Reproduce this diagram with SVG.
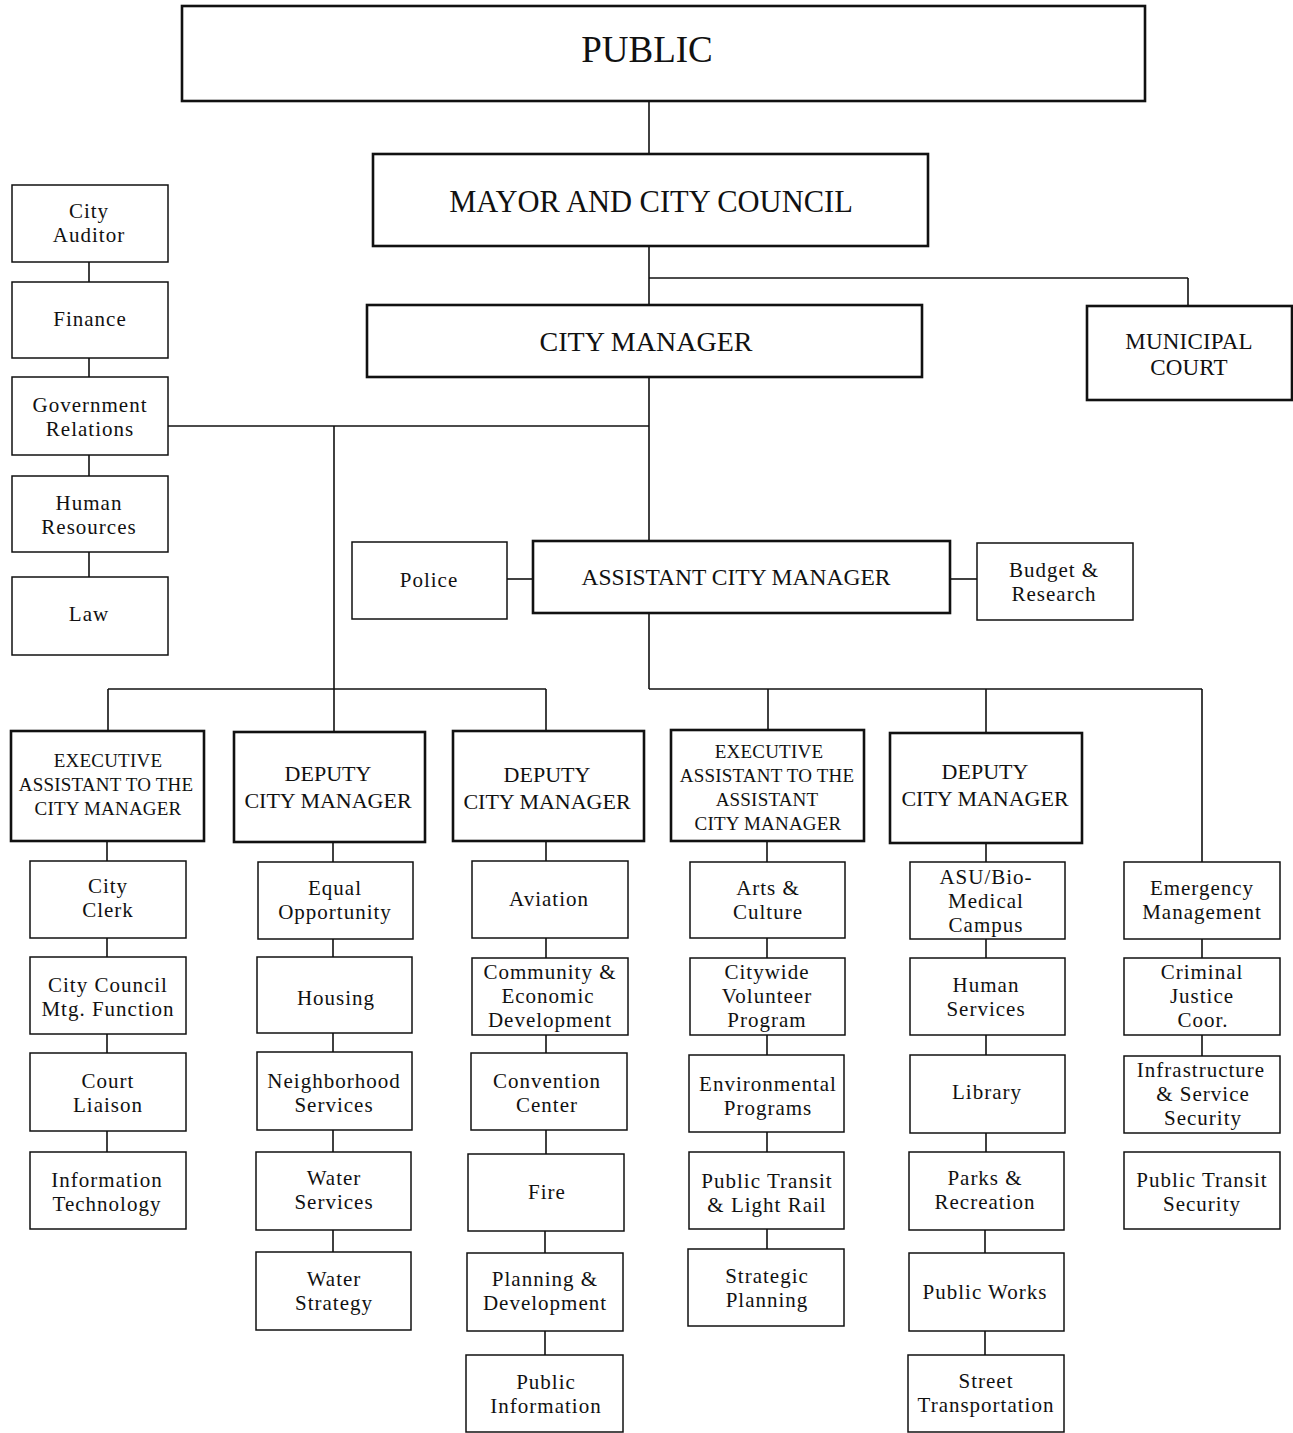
<svg xmlns="http://www.w3.org/2000/svg" width="1293" height="1433" viewBox="0 0 1293 1433">
<style>
.b,.k{fill:#fff;stroke:#111}
.b{stroke-width:1.5}
.k{stroke-width:2.6}
text{font-family:"Liberation Serif","DejaVu Serif",serif;fill:#111;text-anchor:middle}
.s{font-size:21px;letter-spacing:1px}
.m{font-size:19px;letter-spacing:0.2px}
.d{font-size:22px;letter-spacing:0px}
.c{font-size:23px;letter-spacing:0.2px}
#connectors line{stroke:#111;stroke-width:1.6}
</style>
<rect width="1293" height="1433" fill="#fff"/>
<g id="connectors">
<line x1="649" y1="101" x2="649" y2="154"/>
<line x1="649" y1="246" x2="649" y2="305"/>
<line x1="649" y1="278" x2="1188" y2="278"/>
<line x1="1188" y1="278" x2="1188" y2="306"/>
<line x1="649" y1="377" x2="649" y2="541"/>
<line x1="168" y1="426" x2="649" y2="426"/>
<line x1="334" y1="426" x2="334" y2="732"/>
<line x1="108" y1="689" x2="546" y2="689"/>
<line x1="108" y1="689" x2="108" y2="731"/>
<line x1="546" y1="689" x2="546" y2="731"/>
<line x1="89" y1="262" x2="89" y2="282"/>
<line x1="89" y1="358" x2="89" y2="377"/>
<line x1="89" y1="455" x2="89" y2="476"/>
<line x1="89" y1="552" x2="89" y2="577"/>
<line x1="507" y1="579" x2="533" y2="579"/>
<line x1="950" y1="579" x2="977" y2="579"/>
<line x1="649" y1="613" x2="649" y2="689"/>
<line x1="649" y1="689" x2="1202" y2="689"/>
<line x1="768" y1="689" x2="768" y2="730"/>
<line x1="986" y1="689" x2="986" y2="733"/>
<line x1="1202" y1="689" x2="1202" y2="862"/>
<line x1="107" y1="841" x2="107" y2="861"/>
<line x1="107" y1="938" x2="107" y2="957"/>
<line x1="107" y1="1034" x2="107" y2="1053"/>
<line x1="107" y1="1131" x2="107" y2="1152"/>
<line x1="333" y1="842" x2="333" y2="862"/>
<line x1="333" y1="939" x2="333" y2="957"/>
<line x1="333" y1="1033" x2="333" y2="1052"/>
<line x1="333" y1="1130" x2="333" y2="1152"/>
<line x1="333" y1="1230" x2="333" y2="1252"/>
<line x1="546" y1="841" x2="546" y2="861"/>
<line x1="546" y1="938" x2="546" y2="958"/>
<line x1="546" y1="1035" x2="546" y2="1053"/>
<line x1="546" y1="1130" x2="546" y2="1154"/>
<line x1="545" y1="1231" x2="545" y2="1253"/>
<line x1="545" y1="1331" x2="545" y2="1355"/>
<line x1="767" y1="841" x2="767" y2="862"/>
<line x1="767" y1="938" x2="767" y2="958"/>
<line x1="767" y1="1035" x2="767" y2="1055"/>
<line x1="767" y1="1132" x2="767" y2="1152"/>
<line x1="767" y1="1229" x2="767" y2="1249"/>
<line x1="986" y1="843" x2="986" y2="862"/>
<line x1="986" y1="939" x2="986" y2="958"/>
<line x1="986" y1="1035" x2="986" y2="1055"/>
<line x1="986" y1="1133" x2="986" y2="1152"/>
<line x1="985" y1="1230" x2="985" y2="1253"/>
<line x1="985" y1="1331" x2="985" y2="1355"/>
<line x1="1202" y1="939" x2="1202" y2="958"/>
<line x1="1202" y1="1035" x2="1202" y2="1056"/>
</g>
<g id="public"><rect class="k" x="182" y="6" width="963" height="95"/><text x="647" y="62" font-size="37">PUBLIC</text></g>
<g id="mayor"><rect class="k" x="373" y="154" width="555" height="92"/><text x="651" y="212" font-size="30.5">MAYOR AND CITY COUNCIL</text></g>
<g id="city-manager"><rect class="k" x="367" y="305" width="555" height="72"/><text x="646" y="351" font-size="28">CITY MANAGER</text></g>
<g id="municipal-court"><rect class="k" x="1087" y="306" width="205" height="94"/><text class="c" x="1189" y="349">MUNICIPAL</text><text class="c" x="1189" y="375">COURT</text></g>
<g id="city-auditor"><rect class="b" x="12" y="185" width="156" height="77"/><text class="s" x="89" y="218">City</text><text class="s" x="89" y="242">Auditor</text></g>
<g id="finance"><rect class="b" x="12" y="282" width="156" height="76"/><text class="s" x="90" y="326">Finance</text></g>
<g id="government-relations"><rect class="b" x="12" y="377" width="156" height="78"/><text class="s" x="90" y="412">Government</text><text class="s" x="90" y="436">Relations</text></g>
<g id="human-resources"><rect class="b" x="12" y="476" width="156" height="76"/><text class="s" x="89" y="510">Human</text><text class="s" x="89" y="534">Resources</text></g>
<g id="law"><rect class="b" x="12" y="577" width="156" height="78"/><text class="s" x="89" y="621">Law</text></g>
<g id="police"><rect class="b" x="352" y="542" width="155" height="77"/><text class="s" x="429" y="587">Police</text></g>
<g id="assistant-city-manager"><rect class="k" x="533" y="541" width="417" height="72"/><text x="736" y="585" font-size="23.5">ASSISTANT CITY MANAGER</text></g>
<g id="budget-research"><rect class="b" x="977" y="543" width="156" height="77"/><text class="s" x="1054" y="577">Budget &amp;</text><text class="s" x="1054" y="601">Research</text></g>
<g id="exec-asst-cm"><rect class="k" x="11" y="731" width="193" height="110"/><text class="m" x="108" y="767">EXECUTIVE</text><text class="m" x="106" y="791">ASSISTANT TO THE</text><text class="m" x="108" y="815">CITY MANAGER</text></g>
<g id="deputy-cm-1"><rect class="k" x="234" y="732" width="191" height="110"/><text class="d" x="328" y="781">DEPUTY</text><text class="d" x="328" y="808">CITY MANAGER</text></g>
<g id="deputy-cm-2"><rect class="k" x="453" y="731" width="191" height="110"/><text class="d" x="547" y="782">DEPUTY</text><text class="d" x="547" y="809">CITY MANAGER</text></g>
<g id="exec-asst-acm"><rect class="k" x="671" y="730" width="193" height="111"/><text class="m" x="769" y="758">EXECUTIVE</text><text class="m" x="767" y="782">ASSISTANT TO THE</text><text class="m" x="767" y="806">ASSISTANT</text><text class="m" x="768" y="830">CITY MANAGER</text></g>
<g id="deputy-cm-3"><rect class="k" x="890" y="733" width="192" height="110"/><text class="d" x="985" y="779">DEPUTY</text><text class="d" x="985" y="806">CITY MANAGER</text></g>
<g id="city-clerk"><rect class="b" x="30" y="861" width="156" height="77"/><text class="s" x="108" y="893">City</text><text class="s" x="108" y="917">Clerk</text></g>
<g id="city-council-mtg"><rect class="b" x="30" y="957" width="156" height="77"/><text class="s" x="108" y="992">City Council</text><text class="s" x="108" y="1016">Mtg. Function</text></g>
<g id="court-liaison"><rect class="b" x="30" y="1053" width="156" height="78"/><text class="s" x="108" y="1088">Court</text><text class="s" x="108" y="1112">Liaison</text></g>
<g id="information-technology"><rect class="b" x="30" y="1152" width="156" height="77"/><text class="s" x="107" y="1187">Information</text><text class="s" x="107" y="1211">Technology</text></g>
<g id="equal-opportunity"><rect class="b" x="258" y="862" width="155" height="77"/><text class="s" x="335" y="895">Equal</text><text class="s" x="335" y="919">Opportunity</text></g>
<g id="housing"><rect class="b" x="257" y="957" width="155" height="76"/><text class="s" x="336" y="1005">Housing</text></g>
<g id="neighborhood-services"><rect class="b" x="257" y="1052" width="155" height="78"/><text class="s" x="334" y="1088">Neighborhood</text><text class="s" x="334" y="1112">Services</text></g>
<g id="water-services"><rect class="b" x="256" y="1152" width="155" height="78"/><text class="s" x="334" y="1185">Water</text><text class="s" x="334" y="1209">Services</text></g>
<g id="water-strategy"><rect class="b" x="256" y="1252" width="155" height="78"/><text class="s" x="334" y="1286">Water</text><text class="s" x="334" y="1310">Strategy</text></g>
<g id="aviation"><rect class="b" x="472" y="861" width="156" height="77"/><text class="s" x="549" y="906">Aviation</text></g>
<g id="community-economic-development"><rect class="b" x="472" y="958" width="156" height="77"/><text class="s" x="550" y="979">Community &amp;</text><text class="s" x="548" y="1003">Economic</text><text class="s" x="550" y="1027">Development</text></g>
<g id="convention-center"><rect class="b" x="471" y="1053" width="156" height="77"/><text class="s" x="547" y="1088">Convention</text><text class="s" x="547" y="1112">Center</text></g>
<g id="fire"><rect class="b" x="468" y="1154" width="156" height="77"/><text class="s" x="547" y="1199">Fire</text></g>
<g id="planning-development"><rect class="b" x="467" y="1253" width="156" height="78"/><text class="s" x="545" y="1286">Planning &amp;</text><text class="s" x="545" y="1310">Development</text></g>
<g id="public-information"><rect class="b" x="466" y="1355" width="157" height="77"/><text class="s" x="546" y="1389">Public</text><text class="s" x="546" y="1413">Information</text></g>
<g id="arts-culture"><rect class="b" x="690" y="862" width="155" height="76"/><text class="s" x="768" y="895">Arts &amp;</text><text class="s" x="768" y="919">Culture</text></g>
<g id="citywide-volunteer"><rect class="b" x="690" y="958" width="155" height="77"/><text class="s" x="767" y="979">Citywide</text><text class="s" x="767" y="1003">Volunteer</text><text class="s" x="767" y="1027">Program</text></g>
<g id="environmental-programs"><rect class="b" x="689" y="1055" width="155" height="77"/><text class="s" x="768" y="1091">Environmental</text><text class="s" x="768" y="1115">Programs</text></g>
<g id="public-transit-light-rail"><rect class="b" x="689" y="1152" width="155" height="77"/><text class="s" x="767" y="1188">Public Transit</text><text class="s" x="767" y="1212">&amp; Light Rail</text></g>
<g id="strategic-planning"><rect class="b" x="688" y="1249" width="156" height="77"/><text class="s" x="767" y="1283">Strategic</text><text class="s" x="767" y="1307">Planning</text></g>
<g id="asu-biomedical"><rect class="b" x="910" y="862" width="155" height="77"/><text class="s" x="986" y="884">ASU/Bio-</text><text class="s" x="986" y="908">Medical</text><text class="s" x="986" y="932">Campus</text></g>
<g id="human-services"><rect class="b" x="910" y="958" width="155" height="77"/><text class="s" x="986" y="992">Human</text><text class="s" x="986" y="1016">Services</text></g>
<g id="library"><rect class="b" x="910" y="1055" width="155" height="78"/><text class="s" x="987" y="1099">Library</text></g>
<g id="parks-recreation"><rect class="b" x="909" y="1152" width="155" height="78"/><text class="s" x="985" y="1185">Parks &amp;</text><text class="s" x="985" y="1209">Recreation</text></g>
<g id="public-works"><rect class="b" x="909" y="1253" width="155" height="78"/><text class="s" x="985" y="1299">Public Works</text></g>
<g id="street-transportation"><rect class="b" x="908" y="1355" width="156" height="77"/><text class="s" x="986" y="1388">Street</text><text class="s" x="986" y="1412">Transportation</text></g>
<g id="emergency-management"><rect class="b" x="1124" y="862" width="156" height="77"/><text class="s" x="1202" y="895">Emergency</text><text class="s" x="1202" y="919">Management</text></g>
<g id="criminal-justice"><rect class="b" x="1124" y="958" width="156" height="77"/><text class="s" x="1202" y="979">Criminal</text><text class="s" x="1202" y="1003">Justice</text><text class="s" x="1203" y="1027">Coor.</text></g>
<g id="infrastructure-security"><rect class="b" x="1124" y="1056" width="156" height="77"/><text class="s" x="1201" y="1077">Infrastructure</text><text class="s" x="1203" y="1101">&amp; Service</text><text class="s" x="1203" y="1125">Security</text></g>
<g id="public-transit-security"><rect class="b" x="1124" y="1152" width="156" height="77"/><text class="s" x="1202" y="1187">Public Transit</text><text class="s" x="1202" y="1211">Security</text></g>
</svg>
